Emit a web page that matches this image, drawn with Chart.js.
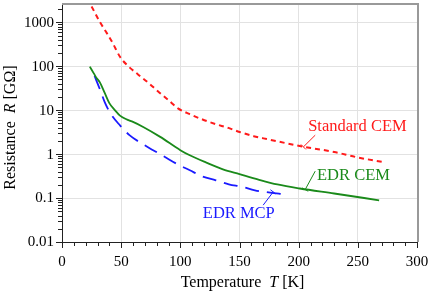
<!DOCTYPE html>
<html>
<head>
<meta charset="utf-8">
<script src="https://cdn.jsdelivr.net/npm/chart.js@4"></script>
<style>html,body{margin:0;padding:0;background:#fff}</style>
</head>
<body>
<canvas id="c" width="436" height="296"></canvas>
<script>
// temperature [K] and resistance [GOhm]
const stdTemp = [25, 32, 38, 43, 49, 56, 64, 73, 81, 90, 98, 108, 117, 130, 140, 150, 162, 173, 205, 230, 250, 273]
const stdR = [2300, 1020, 560, 331, 164, 100, 66, 42, 27, 16.9, 11, 8.1, 6.4, 4.8, 4.0, 3.2, 2.56, 2.2, 1.46, 1.12, 0.84, 0.65]

const cemTemp = [23.5, 27, 29, 32, 36, 40, 45, 49, 55, 60, 69, 83, 100, 108, 122, 136, 150, 166, 182, 201, 230, 268]
const cemR = [98, 68, 55, 43, 25, 14.5, 9.8, 7.5, 6.1, 5.4, 4.1, 2.47, 1.23, 0.94, 0.64, 0.45, 0.35, 0.263, 0.204, 0.165, 0.127, 0.089]

const mcpTemp = [27.5, 32, 36, 41, 49, 57, 67, 77, 87, 97, 108, 118, 130, 141, 152, 163, 176, 187]
const mcpR = [60, 30, 15.5, 8.4, 4.5, 2.7, 1.77, 1.23, 0.86, 0.6, 0.43, 0.316, 0.254, 0.206, 0.18, 0.15, 0.133, 0.122]

const xTickLabels = [0, 50, 100, 150, 200, 250, 300]
const yTickLabels = ['0.01', '0.1', '1', '10', '100', '1000']

const SERIF = '"Liberation Serif", "Times New Roman", serif'
const RED = '#ff1a1a', GREEN = '#1a8a1a', BLUE = '#1a1aff'

const pts = (xs, ys) => xs.map((x, i) => ({ x: x, y: ys[i] }))
const isDecade = v => Math.abs(Math.log10(v) - Math.round(Math.log10(v))) < 1e-6

// labels with leader lines, in data coordinates
const notes = [
    { text: 'Standard CEM', color: RED, at: [208, 4.2], from: [214, 2.7], to: [204, 1.46] },
    { text: 'EDR CEM', color: GREEN, at: [215.5, 0.33], from: [214, 0.41], to: [205.5, 0.156] },
    { text: 'EDR MCP', color: BLUE, at: [119, 0.045], from: [170, 0.069], to: [178.5, 0.138] },
]

function drawParts(ctx, parts, cx, cy) {
    let w = 0
    parts.forEach(p => { ctx.font = p[1]; w += ctx.measureText(p[0]).width })
    let x = cx - w / 2
    parts.forEach(p => {
        ctx.font = p[1]
        ctx.fillText(p[0], x, cy)
        x += ctx.measureText(p[0]).width
    })
}

const decor = {
    id: 'decor',
    afterDraw(chart) {
        const { ctx, chartArea: a, scales: { x, y } } = chart
        ctx.save()
        // tick marks
        ctx.strokeStyle = '#222'
        ctx.lineWidth = 1
        ctx.beginPath()
        x.ticks.forEach(t => {
            const px = Math.round(x.getPixelForValue(t.value)) + 0.5
            ctx.moveTo(px, a.bottom)
            ctx.lineTo(px, a.bottom + (t.value % 50 === 0 ? 6 : 4))
        })
        y.ticks.forEach(t => {
            const py = Math.round(y.getPixelForValue(t.value)) + 0.5
            ctx.moveTo(a.left, py)
            ctx.lineTo(a.left - (isDecade(t.value) ? 6 : 4), py)
        })
        ctx.stroke()

        // tick labels
        ctx.fillStyle = '#000'
        ctx.font = '15px ' + SERIF
        ctx.textBaseline = 'middle'
        ctx.textAlign = 'center'
        xTickLabels.forEach(v => ctx.fillText(String(v), x.getPixelForValue(v), a.bottom + 20))
        ctx.textAlign = 'right'
        yTickLabels.forEach(s => ctx.fillText(s, a.left - 8, y.getPixelForValue(Number(s)) + 0.5))

        // top and right frame
        ctx.strokeStyle = '#999'
        ctx.lineWidth = 2
        ctx.beginPath()
        ctx.moveTo(a.left, a.top + 1)
        ctx.lineTo(a.right + 1, a.top + 1)
        ctx.lineTo(a.right + 1, a.bottom)
        ctx.stroke()

        // annotations
        ctx.textAlign = 'left'
        notes.forEach(n => {
            ctx.fillStyle = n.color
            ctx.strokeStyle = n.color
            ctx.font = '16.5px ' + SERIF
            ctx.fillText(n.text, x.getPixelForValue(n.at[0]), y.getPixelForValue(n.at[1]))
            const x1 = x.getPixelForValue(n.from[0]), y1 = y.getPixelForValue(n.from[1])
            const x2 = x.getPixelForValue(n.to[0]), y2 = y.getPixelForValue(n.to[1])
            ctx.lineWidth = 1
            ctx.beginPath()
            ctx.moveTo(x1, y1)
            ctx.lineTo(x2, y2)
            ctx.stroke()
            // small cross tick at the curve end
            const dx = x2 - x1, dy = y2 - y1, len = Math.hypot(dx, dy)
            const nx = -dy / len * 3.5, ny = dx / len * 3.5
            ctx.beginPath()
            ctx.moveTo(x2 - nx, y2 - ny)
            ctx.lineTo(x2 + nx, y2 + ny)
            ctx.stroke()
        })

        // axis titles
        ctx.fillStyle = '#000'
        const normal = '16px ' + SERIF, ital = 'italic 16px ' + SERIF
        drawParts(ctx, [['Temperature  ', normal], ['T', ital], [' [K]', normal]], (a.left + a.right) / 2 + 3, 283)
        ctx.translate(11, (a.top + a.bottom) / 2 + 5)
        ctx.rotate(-Math.PI / 2)
        drawParts(ctx, [['Resistance  ', normal], ['R', ital], [' [G\u03A9]', normal]], 0, 0)
        ctx.restore()
    }
}

new Chart(document.getElementById('c'), {
    type: 'line',
    data: {
        datasets: [
            { label: 'Standard CEM', data: pts(stdTemp, stdR), borderColor: RED, borderWidth: 2, borderDash: [5, 4] },
            { label: 'EDR CEM', data: pts(cemTemp, cemR), borderColor: GREEN, borderWidth: 1.8 },
            { label: 'EDR MCP', data: pts(mcpTemp, mcpR), borderColor: BLUE, borderWidth: 1.8, borderDash: [14, 8] },
        ]
    },
    options: {
        responsive: false,
        animation: false,
        devicePixelRatio: 1,
        layout: { padding: { left: 0, right: 19, top: 3, bottom: 0 } },
        elements: { point: { radius: 0 }, line: { cubicInterpolationMode: 'monotone', fill: false } },
        plugins: { legend: { display: false }, tooltip: { enabled: false } },
        scales: {
            x: {
                type: 'linear', min: 0, max: 300,
                afterBuildTicks: s => {
                    const t = []
                    for (let v = 0; v <= 300; v += 10) t.push({ value: v })
                    s.ticks = t
                },
                afterFit: s => { s.height = 54; s.paddingLeft = 0; s.paddingRight = 0 },
                ticks: { display: false, autoSkip: false },
                grid: { drawTicks: false, color: c => (c.tick && c.tick.value % 50 === 0) ? '#e2e2e2' : 'rgba(0,0,0,0)' },
                border: { color: '#222', width: 1 }
            },
            y: {
                type: 'logarithmic', min: 0.01, max: 2750,
                afterBuildTicks: s => {
                    const t = []
                    for (let e = -2; e <= 3; e++)
                        for (let k = 1; k <= 9; k++) {
                            const v = k * Math.pow(10, e)
                            if (v <= 2750) t.push({ value: v })
                        }
                    s.ticks = t
                },
                afterFit: s => { s.width = 62; s.paddingTop = 0; s.paddingBottom = 0 },
                ticks: { display: false, autoSkip: false },
                grid: { drawTicks: false, color: c => (c.tick && isDecade(c.tick.value)) ? '#e2e2e2' : 'rgba(0,0,0,0)' },
                border: { color: '#222', width: 1 }
            }
        }
    },
    plugins: [decor]
})
</script>
</body>
</html>
